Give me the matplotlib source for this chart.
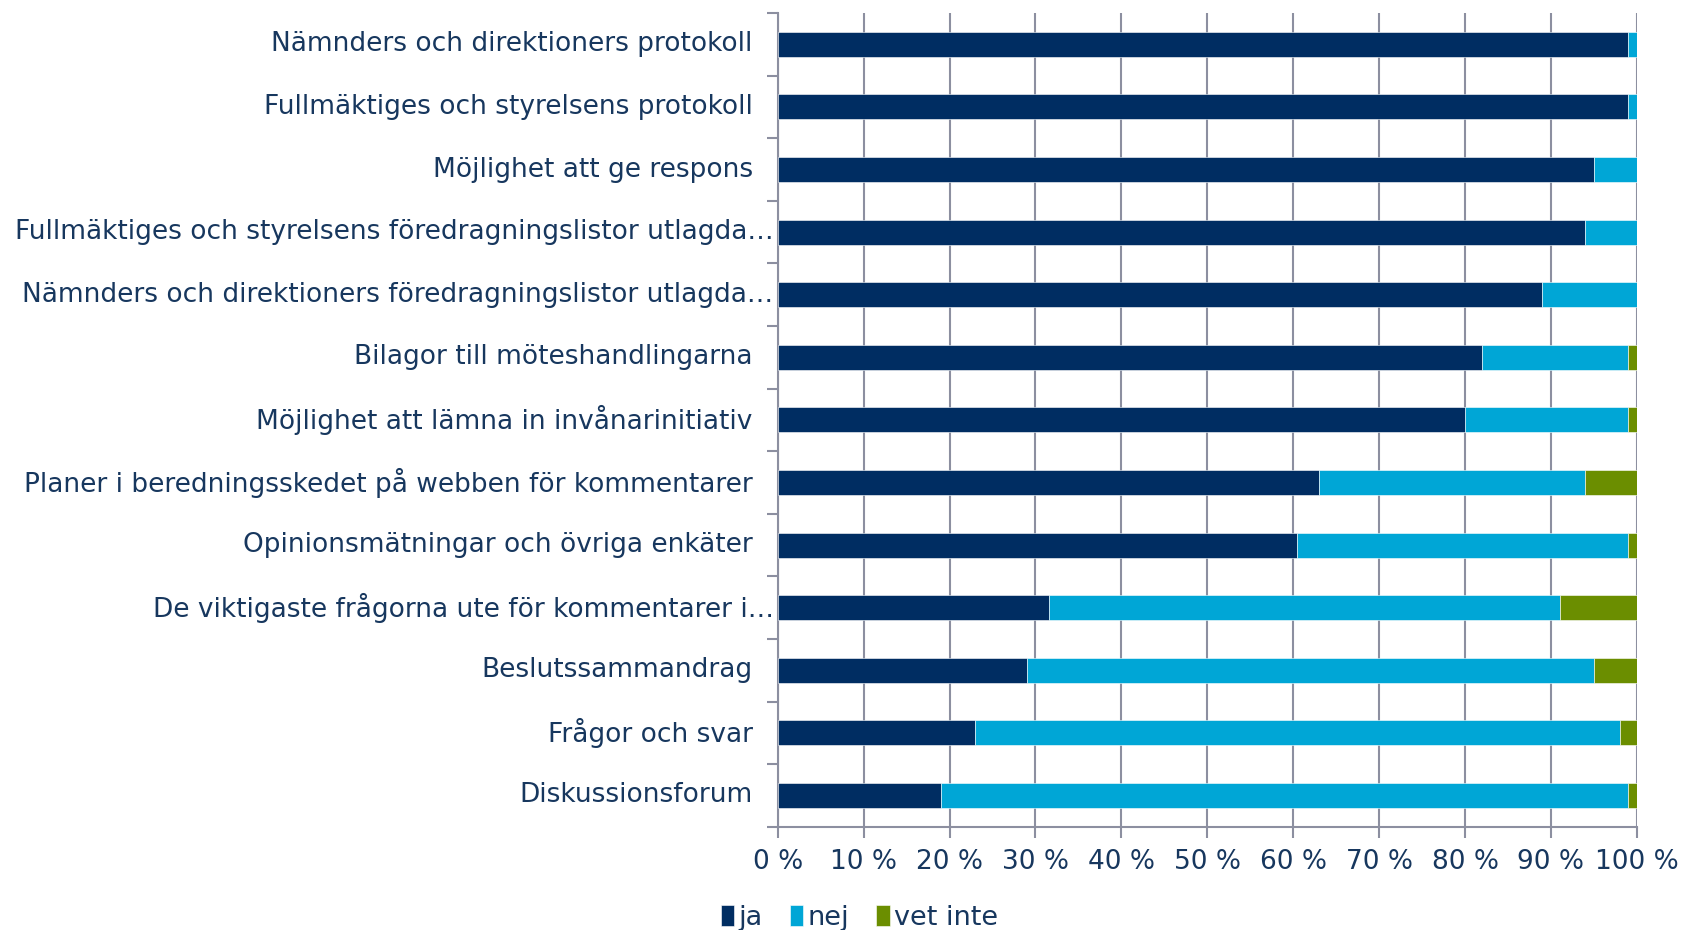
import matplotlib
matplotlib.use("Agg")
import matplotlib.pyplot as plt
import numpy as np
from matplotlib.ticker import FixedLocator
from matplotlib.transforms import ScaledTranslation, blended_transform_factory

categories = [
    "Nämnders och direktioners protokoll",
    "Fullmäktiges och styrelsens protokoll",
    "Möjlighet att ge respons",
    "Fullmäktiges och styrelsens föredragningslistor utlagda…",
    "Nämnders och direktioners föredragningslistor utlagda…",
    "Bilagor till möteshandlingarna",
    "Möjlighet att lämna in invånarinitiativ",
    "Planer i beredningsskedet på webben för kommentarer",
    "Opinionsmätningar och övriga enkäter",
    "De viktigaste frågorna ute för kommentarer i…",
    "Beslutssammandrag",
    "Frågor och svar",
    "Diskussionsforum",
]
ja = [99, 99, 95, 94, 89, 82, 80, 63, 60.4, 31.6, 29, 23, 19]
nej = [1, 1, 5, 6, 11, 17, 19, 31, 38.6, 59.5, 66, 75, 80]
vet_inte = [0, 0, 0, 0, 0, 1, 1, 6, 1, 8.9, 5, 2, 1]
series_names = ["ja", "nej", "vet inte"]
colors = ["#002D62", "#00A6D6", "#6B8E00"]
xtick_labels = [f"{v} %" for v in range(0, 101, 10)]

text_color = "#17375E"
grid_color = "#8C8FA0"
FS = 19

fig = plt.figure(figsize=(16.84, 9.30), dpi=100)
ax = fig.add_axes([0.4618, 0.111, 0.972 - 0.4618, 0.986 - 0.111])

y = np.arange(len(categories))[::-1]
left = np.zeros(len(categories))
for name, vals, c in zip(series_names, [ja, nej, vet_inte], colors):
    vals = np.array(vals, dtype=float)
    ax.barh(y, vals, left=left, height=0.4, color=c, label=name,
            edgecolor="white", linewidth=0.4, zorder=3)
    left += vals

ax.set_xlim(0, 100)
ax.set_ylim(-0.5, len(categories) - 0.5)
ax.set_xticks(np.arange(0, 101, 10))
ax.set_xticklabels(xtick_labels)
ax.set_yticks(y)
ax.set_yticklabels([])
ax.yaxis.set_minor_locator(FixedLocator(np.arange(-0.5, len(categories), 1.0)))
ax.tick_params(axis="y", which="major", length=0)
ax.tick_params(axis="y", which="minor", length=8, width=1.5, color=grid_color)
ax.tick_params(axis="x", which="major", length=8, width=1.5, color=grid_color,
               labelsize=FS, labelcolor=text_color, pad=8)

# category labels (truncated ones sit closer to the axis, as in the original)
trans = blended_transform_factory(ax.transAxes, ax.transData)
for yi, lab in zip(y, categories):
    off = -3 if lab.endswith("…") else -18
    t = trans + ScaledTranslation(off / 72, 0, fig.dpi_scale_trans)
    ax.text(0, yi, lab, transform=t, ha="right", va="center",
            fontsize=FS, color=text_color)

ax.grid(axis="x", color=grid_color, linewidth=1.5, zorder=0)
ax.set_axisbelow(True)
for s in ["top", "right"]:
    ax.spines[s].set_visible(False)
for s in ["left", "bottom"]:
    ax.spines[s].set_color(grid_color)
    ax.spines[s].set_linewidth(1.5)

leg = fig.legend(loc="center left", bbox_to_anchor=(0.428, 0.013), ncol=3, frameon=False,
                 fontsize=FS + 0.5, handlelength=0.5, handleheight=0.85, handletextpad=0.15,
                 columnspacing=1.0, borderpad=0, borderaxespad=0, labelcolor=text_color)

fig.savefig("out.png", dpi=100)
